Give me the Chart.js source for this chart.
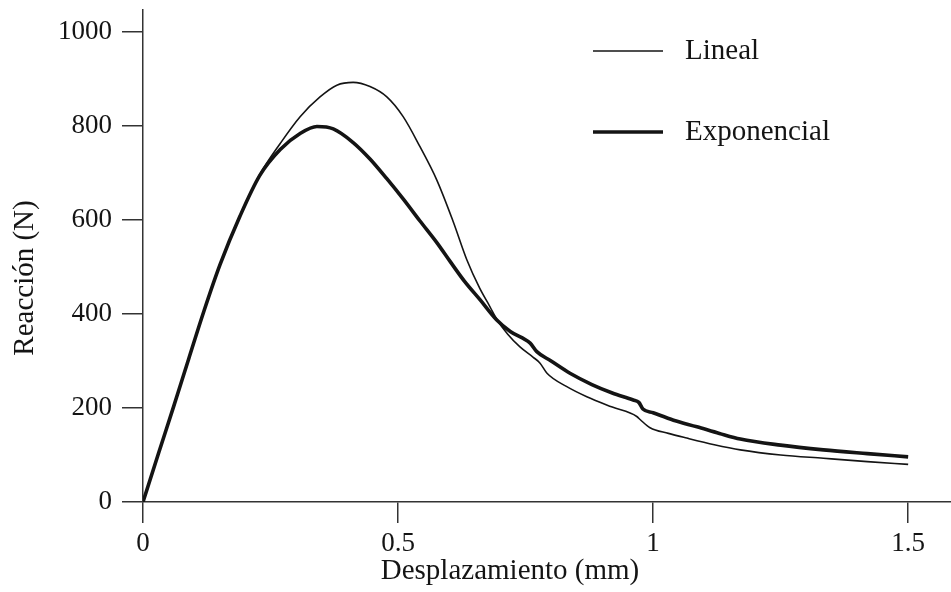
<!DOCTYPE html>
<html>
<head>
<meta charset="utf-8">
<script src="https://cdn.jsdelivr.net/npm/chart.js@4.4.0/dist/chart.umd.min.js"></script>
<style>
html,body{margin:0;padding:0;background:#fff;}
#wrap{width:951px;height:592px;position:relative;}
</style>
</head>
<body>
<div id="wrap"><canvas id="c" width="951" height="592"></canvas></div>
<script>
// ---- data ----
const xLineal = [0,0.03,0.06,0.09,0.12,0.151,0.19,0.229,0.269,0.308,0.347,0.380,0.412,0.445,0.478,0.510,0.543,0.576,0.608,0.635,0.66,0.68,0.693,0.715,0.739,0.765,0.778,0.792,0.83,0.87,0.92,0.968,0.975,0.994,1.03,1.066,1.12,1.171,1.25,1.334,1.42,1.5];
const yLineal = [0,102,203,306,408,505,608,697,763,820,862,887,893,884,862,820,756,685,597,515,455,416,390,357,330,308,296,274,246,224,202,182,175,158,146,136,122,111,100,93,86,80];
const xExpo = [0,0.03,0.06,0.09,0.12,0.151,0.19,0.229,0.269,0.308,0.341,0.373,0.412,0.445,0.478,0.510,0.543,0.576,0.602,0.630,0.661,0.693,0.72,0.759,0.772,0.80,0.837,0.88,0.92,0.961,0.972,0.98,1.0,1.04,1.086,1.13,1.171,1.25,1.334,1.42,1.5];
const yExpo = [0,102,203,306,408,505,608,695,750,784,799,794,765,730,688,645,598,552,512,470,430,388,363,338,320,300,274,250,232,217,212,198,190,174,160,146,134,121,111,103,96];
const seriesNames = ['Lineal','Exponencial'];
const xTickValues = [0,0.5,1,1.5];
const yTickValues = [0,200,400,600,800,1000];
const xTitle = 'Desplazamiento (mm)';
const yTitle = 'Reacción (N)';

const FONT = '"Liberation Serif", "Times New Roman", serif';
const INK = '#141414';

function pts(xs, ys){ return xs.map((x,i)=>({x:x,y:ys[i]})); }

const overlay = {
  id:'overlay',
  afterDraw(chart){
    const ctx = chart.ctx;
    ctx.save();
    ctx.fillStyle = INK;
    ctx.font = '29px ' + FONT;
    ctx.textAlign = 'center';
    ctx.textBaseline = 'middle';
    ctx.fillText(xTitle, 510, 571);
    ctx.translate(25, 278);
    ctx.rotate(-Math.PI/2);
    ctx.fillText(yTitle, 0, 0);
    ctx.restore();
    ctx.save();
    const ys = [51, 132];
    chart.data.datasets.forEach((ds,i)=>{
      ctx.strokeStyle = ds.borderColor;
      ctx.lineWidth = ds.borderWidth;
      ctx.beginPath();
      ctx.moveTo(593, ys[i]);
      ctx.lineTo(663, ys[i]);
      ctx.stroke();
      ctx.fillStyle = INK;
      ctx.font = '29px ' + FONT;
      ctx.textAlign = 'left';
      ctx.textBaseline = 'middle';
      ctx.fillText(ds.label, 685, ys[i]);
    });
    ctx.restore();
  }
};

new Chart(document.getElementById('c'), {
  type:'scatter',
  data:{
    datasets:[
      {label:seriesNames[0], data:pts(xLineal,yLineal), showLine:true, borderColor:INK, borderWidth:1.6, pointRadius:0, cubicInterpolationMode:'monotone'},
      {label:seriesNames[1], data:pts(xExpo,yExpo), showLine:true, borderColor:INK, borderWidth:3.6, pointRadius:0, cubicInterpolationMode:'monotone'}
    ]
  },
  options:{
    responsive:false,
    animation:false,
    layout:{padding:{top:10,right:0,left:0,bottom:0}},
    plugins:{legend:{display:false}, tooltip:{enabled:false}},
    scales:{
      x:{
        type:'linear', min:0, max:1.584,
        afterBuildTicks(s){ s.ticks = xTickValues.map(v=>({value:v})); },
        afterFit(s){ s.height = 90; s.paddingLeft = 0; s.paddingRight = 0; },
        ticks:{ callback:(v)=>String(v), font:{family:FONT, size:27}, color:INK, padding:5, maxRotation:0 },
        grid:{ display:true, drawOnChartArea:false, drawTicks:true, tickLength:21, color:'#333', lineWidth:1.5 },
        border:{ display:true, color:'#333', width:1.5 }
      },
      y:{
        type:'linear', min:0, max:1047,
        afterBuildTicks(s){ s.ticks = yTickValues.map(v=>({value:v})); },
        afterFit(s){ s.width = 143; s.paddingTop = 0; s.paddingBottom = 0; },
        ticks:{ callback:(v)=>String(v), font:{family:FONT, size:27}, color:INK, padding:10 },
        grid:{ display:true, drawOnChartArea:false, drawTicks:true, tickLength:21, color:'#333', lineWidth:1.5 },
        border:{ display:true, color:'#333', width:1.5 }
      }
    }
  },
  plugins:[overlay]
});
</script>
</body>
</html>
